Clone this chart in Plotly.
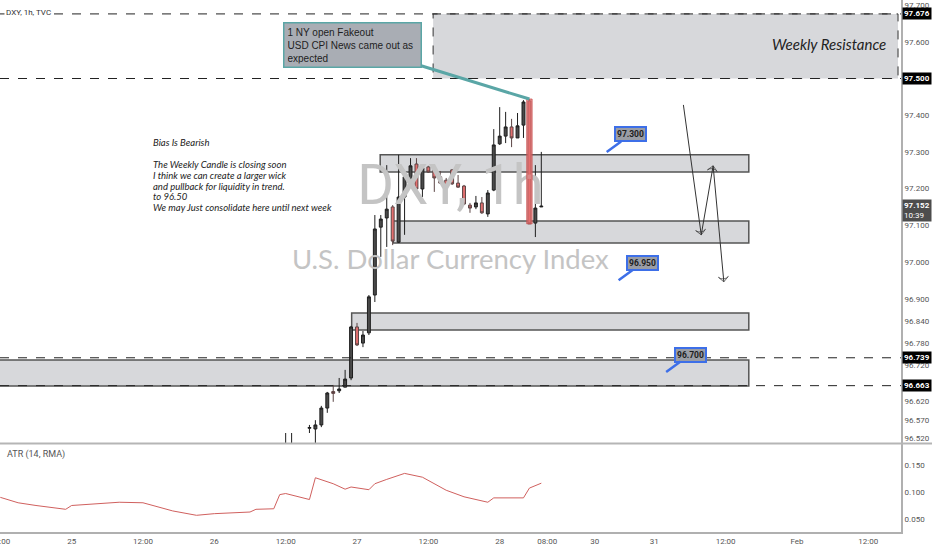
import plotly.graph_objects as go

# hourly bars, counted from 24 Jan 00:00
bars = [60, 61, 64, 65, 66, 67, 68, 69, 70, 71, 72, 73, 74, 75, 76, 77, 78, 79, 80, 81,
        82, 83, 84, 85, 86, 87, 88, 89, 90, 91, 92, 93, 94, 95, 96, 97, 98, 99, 100, 101,
        102, 103]
opens = [96.49, 96.49, 96.547, 96.545, 96.556, 96.602, 96.647, 96.649, 96.659, 96.684,
         96.823, 96.779, 96.807, 96.910, 97.095, 97.120, 97.150, 97.054, 97.177, 97.226,
         97.267, 97.199, 97.259, 97.251, 97.232, 97.223, 97.251, 97.215, 97.207, 97.155,
         97.150, 97.161, 97.131, 97.196, 97.322, 97.343, 97.368, 97.338, 97.373, 97.439,
         97.106, 97.150]
highs = [96.534, 96.534, 96.556, 96.569, 96.608, 96.646, 96.665, 96.684, 96.706, 96.826,
         96.834, 96.812, 96.910, 97.128, 97.128, 97.264, 97.155, 97.292, 97.237, 97.283,
         97.283, 97.259, 97.262, 97.259, 97.248, 97.229, 97.253, 97.237, 97.210, 97.161,
         97.180, 97.177, 97.196, 97.362, 97.422, 97.409, 97.390, 97.406, 97.441, 97.444,
         97.264, 97.300]
lows = [96.47, 96.47, 96.534, 96.48, 96.550, 96.589, 96.619, 96.643, 96.659, 96.678,
        96.771, 96.768, 96.801, 96.891, 97.014, 97.041, 97.046, 97.052, 97.074, 97.202,
        97.180, 97.177, 97.243, 97.191, 97.213, 97.202, 97.210, 97.202, 97.155, 97.134,
        97.144, 97.131, 97.123, 97.193, 97.319, 97.324, 97.313, 97.338, 97.338, 97.104,
        97.068, 97.150]
closes = [96.50, 96.50, 96.549, 96.556, 96.602, 96.643, 96.642, 96.654, 96.681, 96.823,
          96.774, 96.801, 96.905, 97.090, 97.117, 97.144, 97.057, 97.177, 97.232, 97.262,
          97.199, 97.256, 97.245, 97.229, 97.215, 97.204, 97.213, 97.204, 97.158, 97.147,
          97.161, 97.134, 97.188, 97.319, 97.343, 97.368, 97.338, 97.371, 97.436, 97.104,
          97.147, 97.152]

atr_bars = [12, 15, 18, 23, 24, 27, 32, 36, 41, 45, 48, 54, 55, 58, 59, 60, 63, 64, 65,
            68, 70, 71, 74, 75, 77, 80, 83, 87, 90, 94, 95, 100, 101, 103]
atr_vals = [0.091, 0.081, 0.076, 0.069, 0.076, 0.078, 0.082, 0.081, 0.066, 0.058, 0.061,
            0.064, 0.069, 0.070, 0.096, 0.098, 0.089, 0.087, 0.127, 0.116, 0.106, 0.110,
            0.105, 0.116, 0.124, 0.135, 0.128, 0.104, 0.092, 0.082, 0.090, 0.090, 0.108,
            0.117]

price_ticks = [97.7, 97.6, 97.4, 97.3, 97.2, 97.1, 97.0, 96.9, 96.84, 96.78, 96.72,
               96.62, 96.57, 96.52]
atr_ticks = [0.150, 0.100, 0.050]
time_ticks = [12, 24, 36, 48, 60, 72, 84, 96, 104, 112, 122, 134, 146, 158]
time_labels = ["12:00", "25", "12:00", "26", "12:00", "27", "12:00", "28", "08:00",
               "30", "31", "12:00", "Feb", "12:00"]

# drawings
resistance_start, resistance_end = 84.8, 163.0
resistance_low, resistance_high = 97.500, 97.676
zone_starts = [75.9, 78.1, 71.1, 10.0]
zone_lows = [97.245, 97.052, 96.815, 96.662]
zone_highs = [97.292, 97.112, 96.861, 96.733]
zone_end = 137.9
levels = [97.676, 97.500, 96.739, 96.663]
callout_bars = [114, 116, 124]
callout_prices = [97.300, 96.950, 96.700]
path_bars = [126.9, 129.9, 131.9, 133.7]
path_prices = [97.428, 97.074, 97.262, 96.946]
last_price = 97.152
last_time = "10:39"
note_lines = ["Bias Is Bearish", "", "The Weekly Candle is closing soon",
              "I think we can create a larger wick", "and pullback for liquidity in trend.",
              "to 96.50", "We may Just consolidate here until next week"]

fig = go.Figure()

# watermark
fig.add_trace(go.Scatter(x=[87.7], y=[97.196], mode="text", text=["DXY, 1h"],
                         textfont=dict(size=56, color="#c4c4c4", family="Roboto"),
                         hoverinfo="skip"))
fig.add_trace(go.Scatter(x=[87.7], y=[97.0], mode="text", text=["U.S. Dollar Currency Index"],
                         textfont=dict(size=27.5, color="#c4c4c4", family="Lato"),
                         hoverinfo="skip"))

fig.add_trace(go.Candlestick(
    x=bars, open=opens, high=highs, low=lows, close=closes,
    increasing=dict(fillcolor="#4a4a4a", line=dict(color="#1e1e1e", width=1)),
    decreasing=dict(fillcolor="#e36f6f", line=dict(color="#5a4444", width=1)),
    whiskerwidth=0, hoverinfo="skip"))

fig.add_trace(go.Scatter(x=atr_bars, y=atr_vals, mode="lines", yaxis="y2",
                         line=dict(color="#d0605e", width=1), hoverinfo="skip"))

# zigzag projection
fig.add_trace(go.Scatter(x=path_bars, y=path_prices, mode="lines+markers",
                         line=dict(color="#333", width=1),
                         marker=dict(symbol="arrow-wide-open", size=[0, 7, 7, 7],
                                     angleref="previous", color="#333",
                                     line=dict(color="#333", width=1)),
                         hoverinfo="skip"))

shapes = []
shapes.append(dict(type="rect", x0=resistance_start, x1=resistance_end,
                   y0=resistance_low, y1=resistance_high, fillcolor="#d7d8db",
                   line=dict(color="#333", width=1, dash="dash"), layer="below"))
for s, lo, hi in zip(zone_starts, zone_lows, zone_highs):
    shapes.append(dict(type="rect", x0=s, x1=zone_end, y0=lo, y1=hi, fillcolor="#d7d8db",
                       line=dict(color="#555", width=1.5), layer="below"))
for lv in levels:
    shapes.append(dict(type="line", xref="paper", x0=0, x1=1, y0=lv, y1=lv,
                       line=dict(color="#222", width=1, dash="dash")))
# highlighted news candle
i = bars.index(101)
shapes.append(dict(type="rect", x0=bars[i] - 0.45, x1=bars[i] + 0.45, y0=closes[i],
                   y1=highs[i], fillcolor="rgba(229,110,110,0.7)",
                   line=dict(color="rgba(200,80,80,0.8)", width=1)))
# pane separator
shapes.append(dict(type="line", xref="paper", yref="paper", x0=0, x1=1.04,
                   y0=0.1664, y1=0.1664, line=dict(color="#b5b5b5", width=2)))

annotations = []
annotations.append(dict(xref="paper", yref="paper", x=0.004, y=0.977, xanchor="left",
                        yanchor="middle", text="DXY, 1h, TVC", showarrow=False,
                        bgcolor="white", font=dict(size=8, color="#333", family="Roboto")))
annotations.append(dict(xref="paper", yref="paper", x=0.005, y=0.145, xanchor="left",
                        yanchor="middle", text="ATR (14, RMA)", showarrow=False,
                        font=dict(size=9, color="#555", family="Roboto")))
for lv in levels:
    annotations.append(dict(xref="paper", x=1, xshift=1, y=lv, xanchor="left",
                            yanchor="middle", text="<b>%.3f</b>" % lv, showarrow=False,
                            bgcolor="black", borderpad=1,
                            font=dict(size=8, color="white", family="Roboto")))
annotations.append(dict(xref="paper", x=1, xshift=1, y=last_price, xanchor="left",
                        yanchor="top", yshift=7, showarrow=False, align="left",
                        text="<b>%.3f</b><br>%s" % (last_price, last_time),
                        bgcolor="#4d4d4d", borderpad=1,
                        font=dict(size=8, color="white", family="Roboto")))
for k, line in enumerate(note_lines):
    if line:
        annotations.append(dict(x=37.28, y=97.341, yshift=1.5 - 10.8 * k, xanchor="left",
                                yanchor="top", showarrow=False, text="<i>%s</i>" % line,
                                font=dict(size=9.5, color="#222", family="Lato")))
annotations.append(dict(x=161.3, y=97.594, xanchor="right", yanchor="middle",
                        showarrow=False, text="<i>Weekly Resistance</i>",
                        font=dict(size=15, color="#222", family="Lato")))
annotations.append(dict(x=bars[i], y=highs[i], ax=-177, ay=-54.5, showarrow=True,
                        arrowhead=0, arrowwidth=3, arrowcolor="#5aa6a6",
                        text="1 NY open Fakeout<br>USD CPI News came out as<br>expected",
                        align="left", width=130, bgcolor="#a9adb4", bordercolor="#5aa6a6",
                        borderwidth=1.5, borderpad=3,
                        font=dict(size=10, color="#1e1e1e", family="Liberation Sans")))
for b, p in zip(callout_bars, callout_prices):
    annotations.append(dict(x=b, y=p, ax=24, ay=-17.5, showarrow=True, arrowhead=0,
                            arrowwidth=2.5, arrowcolor="#3d6fe8",
                            text="<b>%.3f</b>" % p, bgcolor="#9a9da5",
                            bordercolor="#3d6fe8", borderwidth=2, borderpad=1,
                            font=dict(size=8.5, color="#1e1e1e", family="Roboto")))

fig.update_layout(
    width=932, height=550,
    margin=dict(l=0, r=31, t=0, b=18),
    plot_bgcolor="white", paper_bgcolor="white",
    showlegend=False,
    shapes=shapes, annotations=annotations,
    xaxis=dict(range=[11.95, 163.5], anchor="y2", tickvals=time_ticks,
               ticktext=time_labels, showgrid=False, zeroline=False, showline=True,
               linecolor="#b0b0b0", linewidth=2, ticks="", ticklabeloverflow="allow",
               automargin=False,
               tickfont=dict(size=8, color="#555", family="Roboto"),
               rangeslider=dict(visible=False)),
    yaxis=dict(domain=[0.1673, 1], range=[96.5068, 97.7139], side="right", anchor="x",
               tickvals=price_ticks, ticktext=["%.3f" % v for v in price_ticks],
               showgrid=False, zeroline=False, showline=True, linecolor="#b0b0b0",
               linewidth=2, automargin=False,
               tickfont=dict(size=8, color="#555", family="Roboto")),
    yaxis2=dict(domain=[0, 0.1654], range=[0.0273, 0.189], side="right", anchor="x",
                tickvals=atr_ticks, ticktext=["%.3f" % v for v in atr_ticks],
                showgrid=False, zeroline=False, showline=True, linecolor="#b0b0b0",
                linewidth=2, automargin=False,
                tickfont=dict(size=8, color="#555", family="Roboto")),
)

fig.write_html("out.html", config={"displayModeBar": False},
               post_script="document.body.style.margin='0';")
